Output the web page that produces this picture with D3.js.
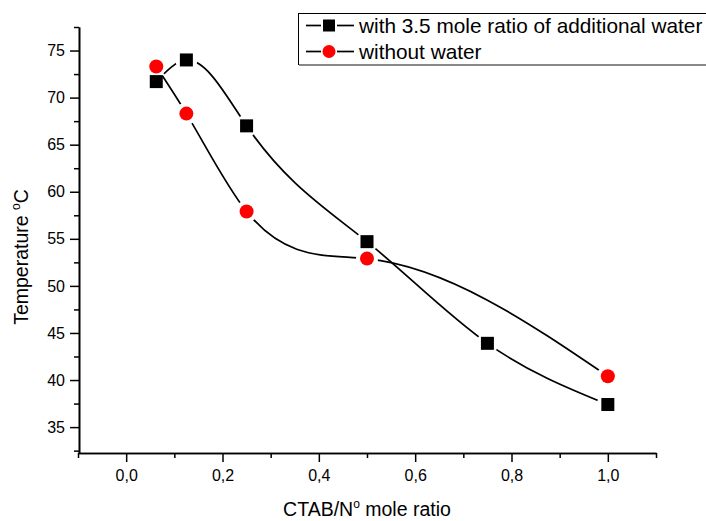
<!DOCTYPE html>
<html><head><meta charset="utf-8">
<script src="https://cdn.jsdelivr.net/npm/d3@7"></script>
<style>body{margin:0;background:#fff}svg{display:block}text{font-family:"Liberation Sans",Arial,sans-serif;fill:#000}</style>
</head><body>
<script>
// ---- data ----
const xWithWater = [0.0625, 0.125, 0.25, 0.5, 0.75, 1.0];
const yWithWater = [71.7, 74.0, 67.0, 54.7, 43.9, 37.4];
const xWithoutWater = [0.0625, 0.125, 0.25, 0.5, 1.0];
const yWithoutWater = [73.3, 68.3, 57.9, 52.9, 40.4];
const seriesNames = ["with 3.5 mole ratio of additional water", "without water"];
const xMajorTicks = [0, 0.2, 0.4, 0.6, 0.8, 1.0];
const xTickLabels = ["0,0", "0,2", "0,4", "0,6", "0,8", "1,0"];
const xMinorTicks = [-0.1, 0.1, 0.3, 0.5, 0.7, 0.9, 1.1];
const yMajorTicks = [35, 40, 45, 50, 55, 60, 65, 70, 75];
const yMinorTicks = [32.5, 37.5, 42.5, 47.5, 52.5, 57.5, 62.5, 67.5, 72.5, 77.5];

const W = 706, H = 521;
const svg = d3.select("body").append("svg").attr("width", W).attr("height", H);

const x = d3.scaleLinear().domain([-0.1, 1.1]).range([78, 656]);
const y = d3.scaleLinear().domain([32.25, 77.5]).range([453, 27]);

// natural cubic spline y(x) as a d3 curve
function NaturalX(context) { this._context = context; }
NaturalX.prototype = {
  areaStart() {}, areaEnd() {},
  lineStart() { this._x = []; this._y = []; },
  point(px, py) { this._x.push(+px); this._y.push(+py); },
  lineEnd() {
    const X = this._x, Y = this._y, n = X.length, c = this._context;
    if (!n) return;
    c.moveTo(X[0], Y[0]);
    if (n === 2) { c.lineTo(X[1], Y[1]); return; }
    const h = [];
    for (let i = 0; i < n - 1; i++) h.push(X[i + 1] - X[i]);
    const a = new Array(n).fill(0), b = new Array(n).fill(0), cc = new Array(n).fill(0), r = new Array(n).fill(0);
    b[0] = 1; b[n - 1] = 1;
    for (let i = 1; i < n - 1; i++) {
      a[i] = h[i - 1]; b[i] = 2 * (h[i - 1] + h[i]); cc[i] = h[i];
      r[i] = 6 * ((Y[i + 1] - Y[i]) / h[i] - (Y[i] - Y[i - 1]) / h[i - 1]);
    }
    for (let i = 1; i < n; i++) {
      const m = a[i] / b[i - 1];
      b[i] -= m * cc[i - 1]; r[i] -= m * r[i - 1];
    }
    const M = new Array(n).fill(0);
    M[n - 1] = r[n - 1] / b[n - 1];
    for (let i = n - 2; i >= 0; i--) M[i] = (r[i] - cc[i] * M[i + 1]) / b[i];
    for (let i = 0; i < n - 1; i++) {
      const hi = h[i], s = (Y[i + 1] - Y[i]) / hi;
      const m0 = s - hi * (2 * M[i] + M[i + 1]) / 6;
      const m1 = s + hi * (M[i] + 2 * M[i + 1]) / 6;
      c.bezierCurveTo(X[i] + hi / 3, Y[i] + m0 * hi / 3, X[i + 1] - hi / 3, Y[i + 1] - m1 * hi / 3, X[i + 1], Y[i + 1]);
    }
  }
};
const curveNaturalX = ctx => new NaturalX(ctx);

const series = [
  { name: seriesNames[0], xs: xWithWater, ys: yWithWater, shape: "square", color: "#000" },
  { name: seriesNames[1], xs: xWithoutWater, ys: yWithoutWater, shape: "circle", color: "#ff0000" }
];
series.forEach(s => s.pts = s.xs.map((v, i) => [v, s.ys[i]]));

const defs = svg.append("defs");
const line = d3.line().x(d => x(d[0])).y(d => y(d[1])).curve(curveNaturalX);

series.forEach((s, k) => {
  const m = defs.append("mask").attr("id", "m" + k).attr("maskUnits", "userSpaceOnUse")
    .attr("x", 0).attr("y", 0).attr("width", W).attr("height", H);
  m.append("rect").attr("width", W).attr("height", H).attr("fill", "#fff");
  m.selectAll("circle").data(s.pts).join("circle")
    .attr("cx", d => x(d[0])).attr("cy", d => y(d[1])).attr("r", 11).attr("fill", "#000");
  svg.append("path").datum(s.pts).attr("d", line).attr("fill", "none")
    .attr("stroke", "#000").attr("stroke-width", 1.7).attr("mask", `url(#m${k})`);
});

function drawMarker(g, shape, cx, cy, size, color) {
  if (shape === "square") {
    g.append("rect").attr("x", cx - size / 2).attr("y", cy - size / 2)
      .attr("width", size).attr("height", size).attr("fill", color);
  } else {
    g.append("circle").attr("cx", cx).attr("cy", cy).attr("r", size / 2 + 0.5).attr("fill", color);
  }
}
const mk = svg.append("g");
series.forEach(s => s.pts.forEach(d => drawMarker(mk, s.shape, x(d[0]), y(d[1]), 13, s.color)));

// axes
const axX = svg.append("g").attr("transform", "translate(0,453)");
axX.call(d3.axisBottom(x).tickValues(xMinorTicks).tickSize(5).tickSizeOuter(0).tickFormat(""));
axX.append("g").call(d3.axisBottom(x).tickValues(xMajorTicks).tickSize(9).tickSizeOuter(0).tickPadding(8)
  .tickFormat((d, i) => xTickLabels[i]));
const axY = svg.append("g").attr("transform", "translate(79,0)");
axY.call(d3.axisLeft(y).tickValues(yMinorTicks).tickSize(5).tickSizeOuter(0).tickFormat(""));
axY.append("g").call(d3.axisLeft(y).tickValues(yMajorTicks).tickSize(9).tickSizeOuter(0).tickPadding(5));
svg.selectAll(".domain").attr("stroke", "#000").attr("stroke-width", 1.6);
svg.selectAll(".tick line").attr("stroke", "#000").attr("stroke-width", 1.5);
svg.selectAll(".tick text").attr("font-size", 16).attr("font-family", "Liberation Sans, Arial, sans-serif").attr("fill", "#000");
axX.select("g").select(".domain").remove();
axY.select("g").select(".domain").remove();

// axis titles
const xt = svg.append("text").attr("x", 367).attr("y", 516).attr("text-anchor", "middle").attr("font-size", 19.5);
xt.append("tspan").text("CTAB/N");
xt.append("tspan").attr("font-size", 12).attr("dy", -8).text("o");
xt.append("tspan").attr("dy", 8).text(" mole ratio");

const yt = svg.append("text").attr("transform", "translate(28,257) rotate(-90)").attr("text-anchor", "middle").attr("font-size", 19.5);
yt.append("tspan").text("Temperature ");
yt.append("tspan").attr("font-size", 12).attr("dy", -8).text("o");
yt.append("tspan").attr("dy", 8).text("C");

// legend
const lg = svg.append("g");
lg.append("rect").attr("x", 298.5).attr("y", 13.5).attr("width", 440).attr("height", 51)
  .attr("fill", "#fff").attr("stroke", "#000").attr("stroke-width", 1);
lg.append("line").attr("x1", 299).attr("x2", 706).attr("y1", 65).attr("y2", 65).attr("stroke", "#888").attr("stroke-width", 2);
const rowsY = [25.5, 51.5];
series.forEach((s, i) => {
  const cy = rowsY[i];
  lg.append("line").attr("x1", 306).attr("x2", 321).attr("y1", cy).attr("y2", cy).attr("stroke", "#000").attr("stroke-width", 1.7);
  lg.append("line").attr("x1", 337).attr("x2", 354).attr("y1", cy).attr("y2", cy).attr("stroke", "#000").attr("stroke-width", 1.7);
  drawMarker(lg, s.shape, 329, cy, 12, s.color);
  lg.append("text").attr("x", 359).attr("y", cy + 7).attr("font-size", 20.8).text(s.name);
});
</script>
</body></html>
